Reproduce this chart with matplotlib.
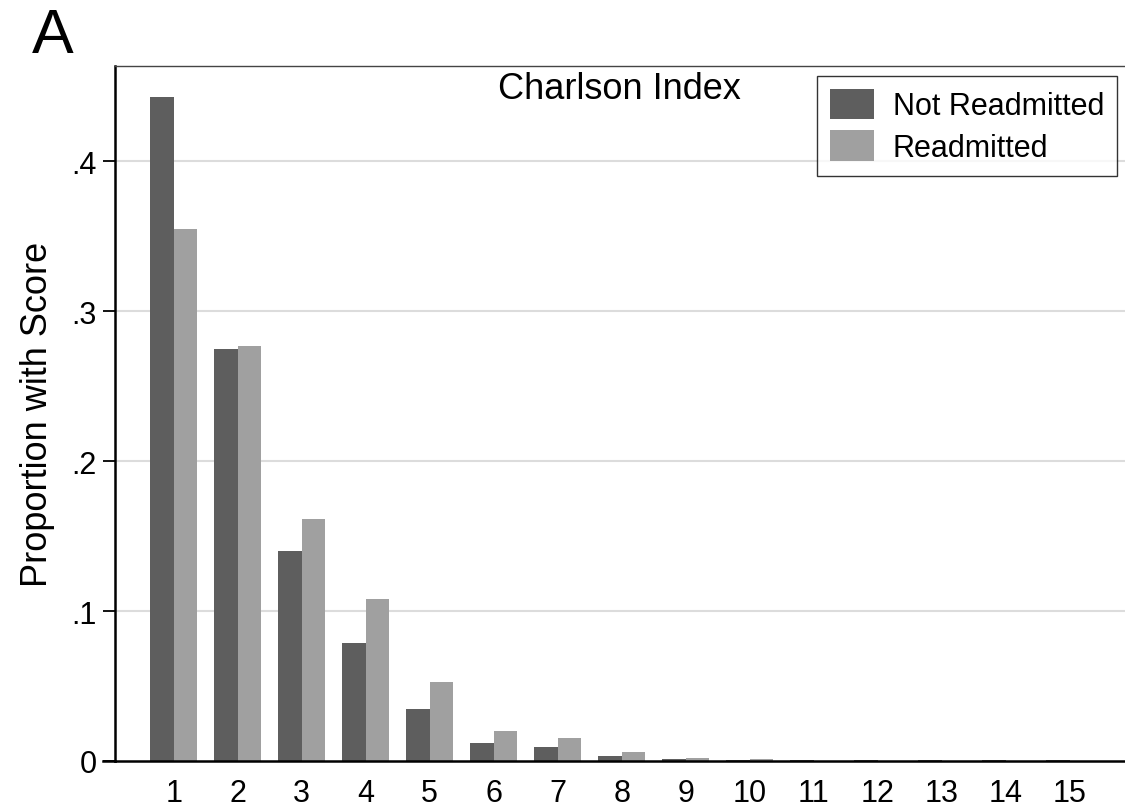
import matplotlib
matplotlib.use("Agg")
import matplotlib.pyplot as plt
import numpy as np

#######################################################################
# Data
#######################################################################
scores = [1, 2, 3, 4, 5, 6, 7, 8, 9, 10, 11, 12, 13, 14, 15]
not_readmitted = [0.443, 0.275, 0.140, 0.079, 0.0346, 0.012, 0.0093, 0.0033,
                  0.0015, 0.0006, 0.0004, 0.0004, 0.0004, 0.0004, 0.0004]
readmitted = [0.355, 0.277, 0.1615, 0.108, 0.0526, 0.020, 0.0153, 0.006,
              0.002, 0.001, 0.0002, 0.0002, 0.0002, 0.0002, 0.0002]
yticks = [0, 0.1, 0.2, 0.3, 0.4]
ytick_labels = ["0", ".1", ".2", ".3", ".4"]

DARK = "#5e5e5e"
LIGHT = "#a0a0a0"

plt.rcParams['font.family'] = ['Liberation Sans', 'DejaVu Sans']

#######################################################################
# Plot
#######################################################################
fig = plt.figure(figsize=(11.25, 8.12), dpi=100)
ax = fig.add_axes([0.102, 0.0616, 0.898, 0.856])

x = np.array(scores, dtype=float)
w = 0.367
ax.bar(x - w / 2, not_readmitted, width=w, color=DARK, label="Not Readmitted", zorder=2)
ax.bar(x + w / 2, readmitted, width=w, color=LIGHT, label="Readmitted", zorder=2)

ax.set_xlim(0.08, 15.86)
ax.set_ylim(0, 0.4637)
ax.set_xticks(scores)
ax.set_xticklabels([str(s) for s in scores], fontsize=22)
ax.set_yticks(yticks)
ax.set_yticklabels(ytick_labels, fontsize=22)
ax.tick_params(axis='x', length=0, pad=12)
ax.tick_params(axis='y', length=9, width=1.3, pad=4)

for y in yticks[1:]:
    ax.axhline(y, color="#dcdcdc", lw=1.5, zorder=1)

ax.spines["right"].set_visible(False)
ax.spines["left"].set_linewidth(1.8)
ax.spines["bottom"].set_linewidth(1.8)
ax.spines["top"].set_linewidth(1.0)
ax.spines["top"].set_color("#444444")
# x axis line pokes out a bit to the left, Stata style
ax.plot([-0.012, 0], [0, 0], transform=ax.transAxes, color="black", lw=1.8, clip_on=False)

ax.set_ylabel("Proportion with Score", fontsize=26, labelpad=12)
ax.text(0.5, 0.968, "Charlson Index", transform=ax.transAxes, ha="center", va="center", fontsize=26)

leg = ax.legend(loc="upper right", bbox_to_anchor=(0.992, 0.9856), borderaxespad=0,
                fontsize=22, frameon=True, fancybox=False, edgecolor="black",
                handlelength=1.44, handleheight=1.15, handletextpad=0.62,
                borderpad=0.42, labelspacing=0.3)
leg.get_frame().set_linewidth(1.0)

fig.text(0.047, 0.955, "A", fontsize=45, ha="center", va="center")

fig.savefig("out.png", dpi=100)
